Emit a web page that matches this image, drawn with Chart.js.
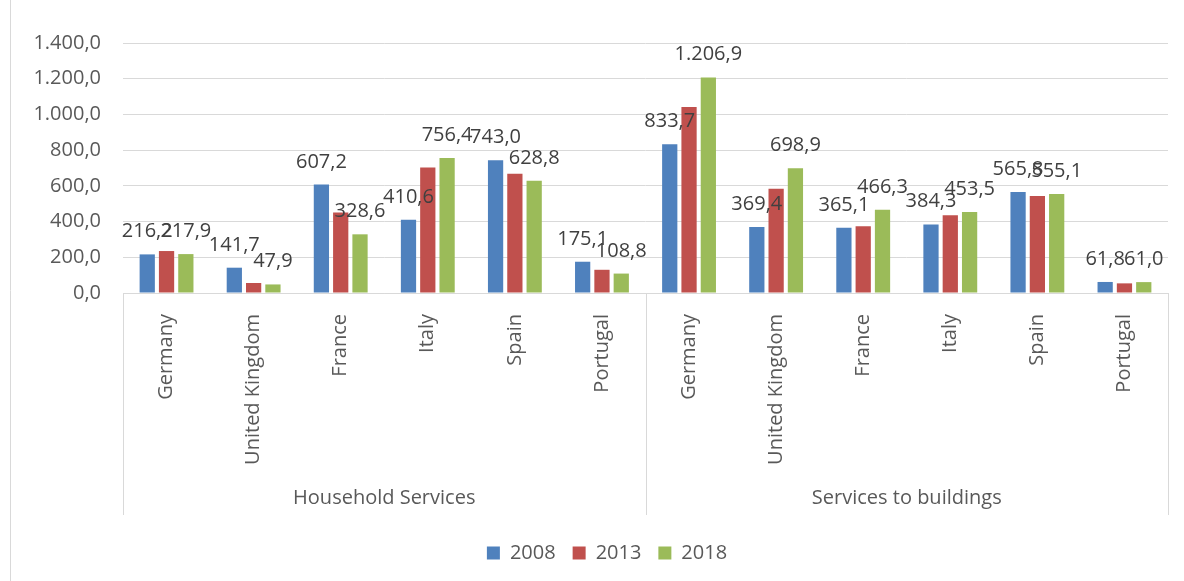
<!DOCTYPE html>
<html>
<head>
<meta charset="utf-8">
<script src="https://cdn.jsdelivr.net/npm/chart.js@4.4.1/dist/chart.umd.min.js"></script>
<style>
  html, body { margin: 0; padding: 0; background: #fff; }
  canvas { display: block; }
</style>
</head>
<body>
<canvas id="chart" width="1184" height="581"></canvas>
<script>
// Countries shown within each sector group
const countries = ['Germany', 'United Kingdom', 'France', 'Italy', 'Spain', 'Portugal'];
const sectors = ['Household Services', 'Services to buildings'];
const years = ['2008', '2013', '2018'];

// Values per year: first six = Household Services, last six = Services to buildings
const values2008 = [216.2, 141.7, 607.2, 410.6, 743.0, 175.1, 833.7, 369.4, 365.1, 384.3, 565.8, 61.8];
const values2013 = [235.0, 56.0, 451.0, 703.0, 668.0, 130.0, 1042.0, 584.0, 374.0, 435.0, 543.0, 54.0];
const values2018 = [217.9, 47.9, 328.6, 756.4, 628.8, 108.8, 1206.9, 698.9, 466.3, 453.5, 555.1, 61.0];

// Years whose bars carry a value label
const labelledYears = ['2008', '2018'];

const yMin = 0, yMax = 1400, yStep = 200;

const colors = ['#4F81BD', '#C0504D', '#9BBB59'];
const FONT = '"Open Sans", sans-serif';

// 1234.5 -> "1.234,5"
function fmt(v) {
  const parts = Number(v).toFixed(1).split('.');
  const intPart = parts[0].replace(/\B(?=(\d{3})+(?!\d))/g, '.');
  return intPart + ',' + parts[1];
}

const categories = sectors.flatMap(() => countries);
const seriesValues = [values2008, values2013, values2018];

// Value labels above selected bars
const valueLabels = {
  id: 'valueLabels',
  afterDatasetsDraw(chart) {
    const ctx = chart.ctx;
    ctx.save();
    ctx.font = '20px ' + FONT;
    ctx.fillStyle = '#404040';
    ctx.textAlign = 'center';
    ctx.textBaseline = 'alphabetic';
    chart.data.datasets.forEach((ds, i) => {
      if (!labelledYears.includes(ds.label)) return;
      const meta = chart.getDatasetMeta(i);
      meta.data.forEach((bar, j) => {
        ctx.fillText(fmt(ds.data[j]), bar.x, bar.y - 17);
      });
    });
    ctx.restore();
  }
};

// Legend sits a little right of the canvas centre, under the plot area
const legendShift = {
  id: 'legendShift',
  afterLayout(chart) {
    const lg = chart.legend;
    if (!lg) return;
    lg.left += 46;
    lg.right += 0;
    lg.width = lg.right - lg.left;
  }
};

// Group separators, sector labels and the frame edge
const groupAxis = {
  id: 'groupAxis',
  afterDraw(chart) {
    const { ctx, chartArea } = chart;
    const x = chart.scales.x;
    const per = (x.right - x.left) / categories.length;
    const lineBottom = chartArea.bottom + 222;
    ctx.save();
    ctx.strokeStyle = '#d9d9d9';
    ctx.lineWidth = 1;
    ctx.beginPath();
    ctx.moveTo(10.5, 0);
    ctx.lineTo(10.5, chart.height);
    const edges = [x.left];
    sectors.forEach((s, i) => edges.push(x.left + per * countries.length * (i + 1)));
    edges.forEach(e => {
      const px = Math.round(e) + 0.5;
      ctx.moveTo(px, chartArea.bottom);
      ctx.lineTo(px, lineBottom);
    });
    ctx.stroke();

    ctx.font = '20px ' + FONT;
    ctx.fillStyle = '#595959';
    ctx.textAlign = 'center';
    ctx.textBaseline = 'middle';
    sectors.forEach((s, i) => {
      const cx = x.left + per * countries.length * (i + 0.5);
      ctx.fillText(s, cx, chartArea.bottom + 205);
    });
    ctx.restore();
  }
};

new Chart(document.getElementById('chart'), {
  type: 'bar',
  data: {
    labels: categories,
    datasets: years.map((y, i) => ({
      label: y,
      data: seriesValues[i],
      backgroundColor: colors[i],
      borderWidth: 0,
      categoryPercentage: 0.665,
      barPercentage: 0.79
    }))
  },
  options: {
    responsive: false,
    animation: false,
    layout: { padding: { top: 43, right: 16, bottom: 8, left: 0 } },
    plugins: {
      legend: {
        position: 'bottom',
        labels: {
          boxWidth: 13,
          boxHeight: 13,
          padding: 17,
          color: '#595959',
          font: { family: FONT, size: 20 }
        }
      },
      tooltip: { enabled: false }
    },
    scales: {
      x: {
        grid: { display: false, drawTicks: false },
        border: { display: true, color: '#d9d9d9', width: 1 },
        ticks: {
          autoSkip: false,
          maxRotation: 90,
          minRotation: 90,
          padding: 21,
          color: '#595959',
          font: { family: FONT, size: 20 }
        },
        afterFit(scale) {
          scale.height = 581 - 293 - scale.chart.legend.height - 8;
        }
      },
      y: {
        min: yMin,
        max: yMax,
        grid: { color: '#d9d9d9', drawTicks: false },
        border: { display: false },
        ticks: {
          stepSize: yStep,
          padding: 22,
          color: '#595959',
          font: { family: FONT, size: 20 },
          callback: v => fmt(v)
        },
        afterFit(scale) {
          scale.width = 123;
        }
      }
    }
  },
  plugins: [legendShift, valueLabels, groupAxis]
});
</script>
</body>
</html>
